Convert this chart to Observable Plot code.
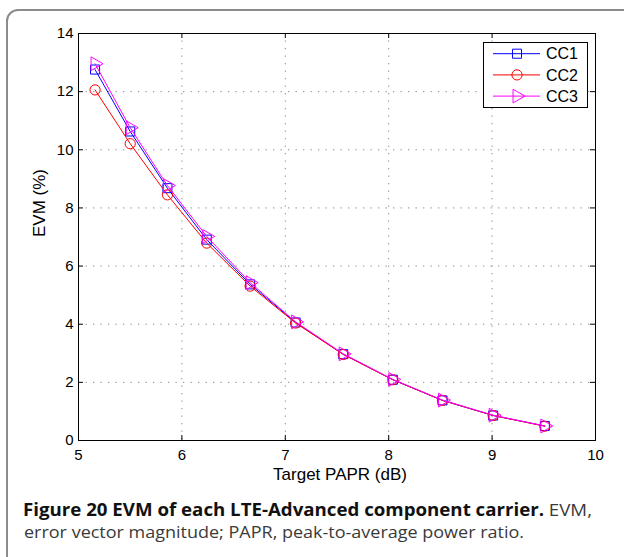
<!DOCTYPE html>
<html>
<head>
<meta charset="utf-8">
<script src="https://cdn.jsdelivr.net/npm/d3@7"></script>
<script src="https://cdn.jsdelivr.net/npm/@observablehq/plot@0.6"></script>
<style>
  html, body { margin: 0; padding: 0; background: #fff; }
  #wrap { position: relative; width: 624px; height: 557px; overflow: hidden; background: #fff; }
  #border { position: absolute; left: 6px; top: 9px; width: 700px; height: 700px; border: 2px solid #8c8c8c; border-radius: 12px; box-sizing: border-box; }
  #chart { position: absolute; left: 0; top: 0; }
  #legend { position: absolute; left: 483px; top: 42px; }
  #caption { position: absolute; left: 0; top: 490px; }
</style>
</head>
<body>
<div id="wrap">
  <div id="border"></div>
  <div id="chart"></div>
  <div id="legend"></div>
  <div id="caption"></div>
</div>
<script>
// ---- data ----
const papr = [5.16, 5.50, 5.86, 6.24, 6.66, 7.10, 7.56, 8.04, 8.52, 9.01, 9.51];
const cc1 = [12.76, 10.63, 8.68, 6.91, 5.37, 4.06, 2.97, 2.09, 1.38, 0.86, 0.50];
const cc2 = [12.06, 10.21, 8.45, 6.79, 5.31, 4.04, 2.96, 2.09, 1.38, 0.86, 0.49];
const cc3 = [12.96, 10.76, 8.77, 7.02, 5.43, 4.08, 2.98, 2.10, 1.39, 0.87, 0.50];
const seriesNames = ["CC1", "CC2", "CC3"];
const seriesValues = [cc1, cc2, cc3];
const seriesColors = ["#0000ff", "#ff0000", "#ff00ff"];
const seriesSymbols = ["square", "circle", "triangle"];
const seriesRotate = [0, 0, 90];
const xTicks = [5, 6, 7, 8, 9, 10];
const yTicks = [0, 2, 4, 6, 8, 10, 12, 14];
const xLabel = "Target PAPR (dB)";
const yLabel = "EVM (%)";
const captionBold = "Figure 20 EVM of each LTE-Advanced component carrier.";
const captionRest1 = " EVM,";
const captionLine2 = "error vector magnitude; PAPR, peak-to-average power ratio.";

const rows = [];
seriesNames.forEach((s, i) => papr.forEach((x, j) => rows.push({series: s, x, y: seriesValues[i][j]})));

const W = 624, H = 485, mL = 78, mR = 29, mT = 33, mB = 45;
const plotW = W - mL - mR, plotH = H - mT - mB;
const font = "'Liberation Sans', Arial, Helvetica, sans-serif";
const grid = {stroke: "#8a8a8a", strokeOpacity: 1, strokeWidth: 1, strokeDasharray: "1.3,6.2"};

const marks = [
  Plot.gridX(xTicks.slice(1, -1), grid),
  Plot.gridY(yTicks.slice(1, -1), grid),
  Plot.frame({stroke: "#000", strokeWidth: 1}),
  Plot.tickX(xTicks, {x: d => d, insetTop: plotH - 5, stroke: "#000"}),
  Plot.tickX(xTicks, {x: d => d, insetBottom: plotH - 5, stroke: "#000"}),
  Plot.tickY(yTicks, {y: d => d, insetRight: plotW - 5, stroke: "#000"}),
  Plot.tickY(yTicks, {y: d => d, insetLeft: plotW - 5, stroke: "#000"}),
  Plot.axisX({ticks: xTicks, tickSize: 0, tickPadding: 9, label: null, fontSize: 15, tickFormat: d => String(d)}),
  Plot.axisY({ticks: yTicks, tickSize: 0, tickPadding: 5, label: null, fontSize: 15, tickFormat: d => String(d)}),
  Plot.text([xLabel], {text: d => d, frameAnchor: "bottom", lineAnchor: "bottom", dy: 39, dx: 3, fontSize: 17, fill: "#000"}),
  Plot.text([yLabel], {text: d => d, frameAnchor: "left", lineAnchor: "bottom", rotate: -90, dx: -34, fontSize: 17, fill: "#000"})
];
seriesNames.forEach((s, i) => {
  const d = rows.filter(r => r.series === s);
  marks.push(Plot.line(d, {x: "x", y: "y", stroke: seriesColors[i], strokeWidth: 1}));
  marks.push(Plot.dot(d, {x: "x", y: "y", stroke: seriesColors[i], fill: "none", strokeWidth: 1,
    symbol: seriesSymbols[i], r: 5.1, rotate: seriesRotate[i]}));
});

const chart = Plot.plot({
  width: W, height: H,
  marginLeft: mL, marginRight: mR, marginTop: mT, marginBottom: mB,
  x: {domain: [5, 10]},
  y: {domain: [0, 14]},
  style: {fontFamily: font, fontSize: "15px", background: "transparent", color: "#000", overflow: "visible"},
  marks
});
document.getElementById("chart").appendChild(chart);

// ---- legend ----
const lg = d3.select("#legend").append("svg").attr("width", 106).attr("height", 67)
  .style("font-family", font).style("overflow", "visible");
lg.append("rect").attr("x", 0.5).attr("y", 0.5).attr("width", 104).attr("height", 65)
  .attr("fill", "#fff").attr("stroke", "#000").attr("stroke-width", 1);
const symMap = {square: d3.symbolSquare, circle: d3.symbolCircle, triangle: d3.symbolTriangle};
seriesNames.forEach((s, i) => {
  const yy = 11.7 + i * 21.2;
  const g = lg.append("g");
  g.append("line").attr("x1", 10).attr("x2", 57).attr("y1", yy).attr("y2", yy)
    .attr("stroke", seriesColors[i]).attr("stroke-width", 1);
  g.append("path").attr("d", d3.symbol(symMap[seriesSymbols[i]], 5.1 * 5.1 * Math.PI)())
    .attr("transform", `translate(34,${yy}) rotate(${seriesRotate[i]})`)
    .attr("fill", "none").attr("stroke", seriesColors[i]).attr("stroke-width", 1);
  g.append("text").attr("x", 63).attr("y", yy + 5.7).attr("font-size", 16).attr("fill", "#000").text(s);
});

// ---- caption ----
const cap = d3.select("#caption").append("svg").attr("width", 624).attr("height", 60)
  .style("font-family", "'Open Sans', 'Noto Sans', sans-serif");
const t1 = cap.append("text").attr("x", 23).attr("y", 25.5).attr("font-size", 17)
  .attr("textLength", 569).attr("lengthAdjust", "spacingAndGlyphs");
t1.append("tspan").attr("font-weight", "bold").attr("fill", "#111").text(captionBold);
t1.append("tspan").attr("fill", "#3a3a3a").text(captionRest1);
cap.append("text").attr("x", 24).attr("y", 47.5).attr("font-size", 17).attr("fill", "#3a3a3a")
  .attr("textLength", 500).attr("lengthAdjust", "spacingAndGlyphs").text(captionLine2);
</script>
</body>
</html>
